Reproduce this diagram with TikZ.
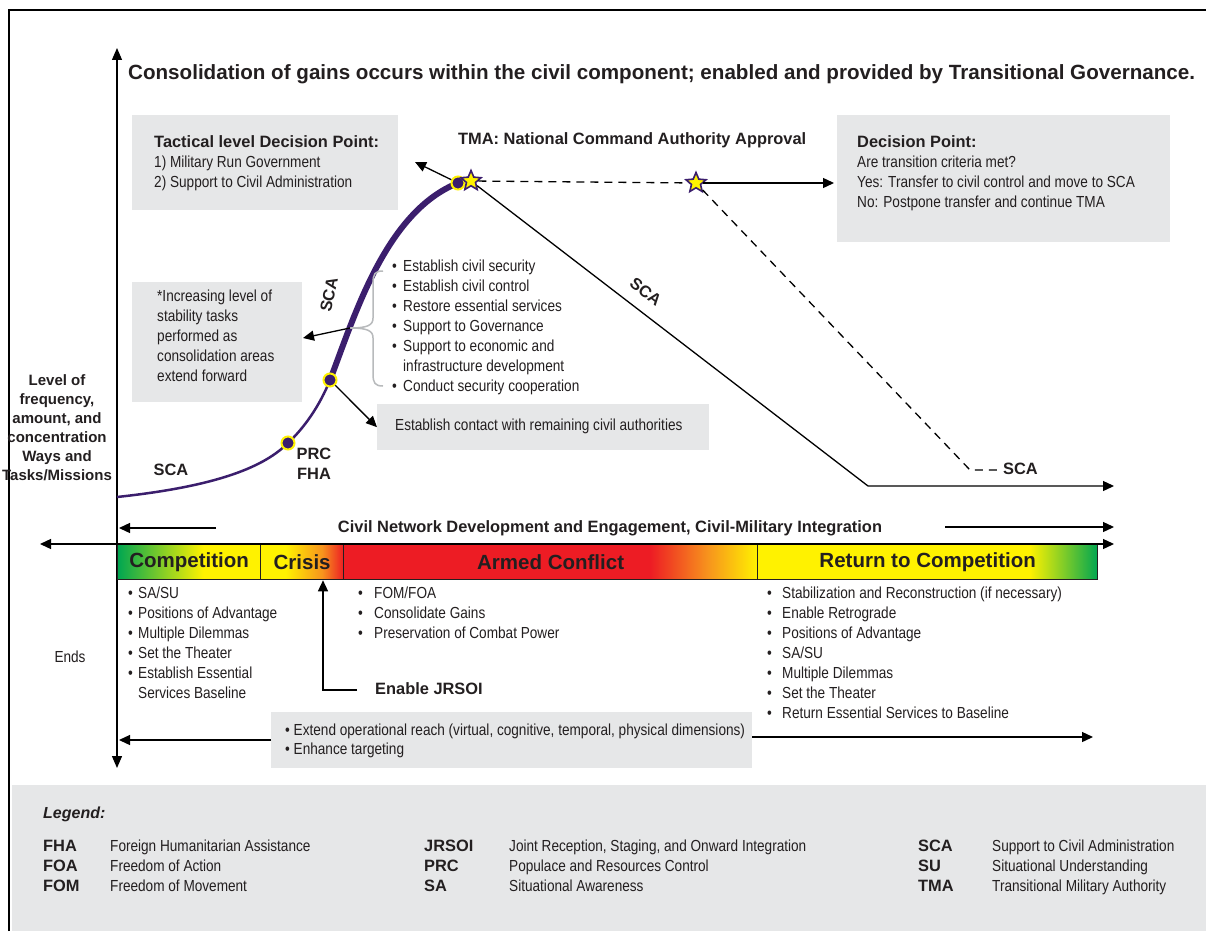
\documentclass[tikz,border=0pt]{standalone}
\usepackage{fontspec}
\setmainfont{Liberation Sans}
\newfontfamily\nar[FakeStretch=0.85]{Liberation Sans}
\usetikzlibrary{arrows.meta,shapes.geometric}
\definecolor{boxgray}{HTML}{E6E7E8}
\definecolor{purp}{HTML}{3B1E6D}
\definecolor{ylw}{HTML}{FFF200}
\definecolor{grn}{HTML}{00A651}
\definecolor{org}{HTML}{F7941D}
\definecolor{rd}{HTML}{ED1C24}
\definecolor{brgray}{HTML}{B8BABC}
\definecolor{ink}{HTML}{231F20}
\pgfdeclarehorizontalshading{compshade}{100bp}{color(0bp)=(grn); color(25bp)=(grn); color(55bp)=(ylw); color(100bp)=(ylw)}
\pgfdeclarehorizontalshading{crisshade}{100bp}{color(0bp)=(ylw); color(40bp)=(ylw); color(62bp)=(org); color(75bp)=(rd); color(100bp)=(rd)}
\pgfdeclarehorizontalshading{armshade}{100bp}{color(0bp)=(rd); color(62bp)=(rd); color(69bp)=(org); color(75bp)=(ylw); color(100bp)=(ylw)}
\pgfdeclarehorizontalshading{retshade}{100bp}{color(0bp)=(ylw); color(65bp)=(ylw); color(75bp)=(grn); color(100bp)=(grn)}
\newcommand\itmA{\makebox[11pt][l]{•}}
\newcommand\itmL{\makebox[10pt][l]{•}}
\newcommand\itmM{\makebox[16pt][l]{•}}
\newcommand\itmR{\makebox[15pt][l]{•}}
\begin{document}
\begin{tikzpicture}[x=1pt,y=-1pt,
  txt/.style={font=\nar\fontsize{16}{20}\selectfont, text=ink, inner sep=0pt, text height=11.5pt, text depth=3pt, anchor=west},
  bld/.style={font=\bfseries\fontsize{16.4}{20}\selectfont, text=ink, inner sep=0pt, text height=12pt, text depth=3pt, anchor=west},
  gbox/.style={fill=boxgray, draw=none, inner sep=0pt, anchor=north west},
  arr/.style={line width=1.3pt, -{Triangle[length=11pt,width=10pt]}},
  barseg/.style={draw=ink, line width=1.3pt, shade, inner sep=0pt, anchor=north west, minimum height=35pt, font=\bfseries\fontsize{20.5}{24}\selectfont, text=ink},
  dot/.style={circle, fill=purp, draw=ylw, line width=2pt, minimum size=13pt, inner sep=0pt},
  starn/.style={star, star points=5, star point ratio=2.2, minimum size=21pt, fill=ylw, draw=purp, line width=1.6pt, inner sep=0pt},
  dsh/.style={line width=1.3pt, dash pattern=on 8pt off 6pt},
]
\useasboundingbox (0,0) rectangle (1206,931);
\fill[white] (0,0) rectangle (1206,931);
\fill[boxgray] (12,785) rectangle (1206,931);
\draw[line width=2.5pt] (9,931) -- (9,10) -- (1206,10);

% vertical axis
\coordinate (axtop) at (117,48);
\coordinate (axbot) at (117,768);
\draw[line width=1.3pt, {Triangle[length=12pt,width=10pt]}-{Triangle[length=12pt,width=10pt]}] (axbot) -- (axtop);

% title
\node[font=\bfseries\fontsize{20.6}{24}\selectfont, text=ink, anchor=west, inner sep=0pt] (title) at (128,74)
  {Consolidation of gains occurs within the civil component; enabled and provided by Transitional Governance.};

% tactical box
\node[gbox, minimum width=266pt, minimum height=95pt] (tacbox) at (132,115) {};
\node[bld] (tac1) at (154,143) {Tactical level Decision Point:};
\node[txt] (tac2) at (154,163) {1) Military Run Government};
\node[txt] (tac3) at (154,183) {2) Support to Civil Administration};

% TMA label
\node[bld] (tma) at (458,140) {TMA: National Command Authority Approval};

% decision box
\node[gbox, minimum width=333pt, minimum height=127pt] (decbox) at (837,115) {};
\node[bld] (dec1) at (857,143) {Decision Point:};
\node[txt] (dec2) at (857,163) {Are transition criteria met?};
\node[txt] (dec3) at (857,183) {Yes: Transfer to civil control and move to SCA};
\node[txt] (dec4) at (857,203) {No: Postpone transfer and continue TMA};

% increasing box
\node[gbox, minimum width=170pt, minimum height=120pt] (incbox) at (132,282) {};
\node[txt, align=left, anchor=north west, text height=, text depth=] (inc) at (157,290)
  {*Increasing level of\\stability tasks\\performed as\\consolidation areas\\extend forward};

% contact box
\node[gbox, minimum width=332pt, minimum height=46pt] (contbox) at (377,404) {};
\node[txt] (cont) at (395,426) {Establish contact with remaining civil authorities};

% curve
\coordinate (c0) at (117,497);
\coordinate (c1) at (288,443);
\coordinate (c2) at (330,380);
\coordinate (c3) at (458,183);
\draw[purp, line width=2.5pt] (c0) .. controls (220,486) and (265,466) .. (c1) .. controls (305,427) and (320,405) .. (c2);
\draw[purp, line width=6pt] (c2) .. controls (354,318) and (385,212) .. (c3);

% brace and list
\draw[brgray, line width=1.5pt] (383,271) .. controls (375,271) and (373,274) .. (373,283) -- (373,318)
  .. controls (373,325) and (368,328) .. (350,328) .. controls (368,328) and (373,331) .. (373,338)
  -- (373,374) .. controls (373,383) and (375,386) .. (383,386);
\coordinate (bracetip) at (350,328);
\coordinate (inctip) at (303,338);
\draw[arr] (bracetip) -- (inctip);
\foreach \t [count=\i] in {{\itmA Establish civil security},{\itmA Establish civil control},{\itmA Restore essential services},{\itmA Support to Governance},{\itmA Support to economic and},{\hspace*{11pt}infrastructure development},{\itmA Conduct security cooperation}}
  \node[txt] (tl\i) at (392,{267+20*(\i-1)}) {\t};

% dots and stars
\node[dot] (d1) at (c1) {};
\node[dot] (d2) at (c2) {};
\node[dot] (d3) at (c3) {};
\node[starn] (s1) at (471,181) {};
\node[starn] (s2) at (696,183) {};

\coordinate (nwtip) at (415,162);
\draw[arr] (d3) -- (nwtip);
\draw[dsh] (s1) -- (s2);
\coordinate (dectip) at (834,183);
\draw[arr] (s2) -- (dectip);
\draw[arr] (d2) -- (contbox.west);

% SCA lines
\coordinate (k1) at (868,486);
\coordinate (k1end) at (1114,486);
\draw[line width=1.3pt, -{Triangle[length=11pt,width=10pt]}] (s1) -- (k1) -- (k1end);
\coordinate (k2) at (970,470);
\coordinate (k2end) at (998,470);
\draw[dsh] (s2) -- (k2) -- (k2end);
\node[bld] (scaR) at (1003,470) {SCA};
\node[bld, anchor=center, rotate=-38] (scaD) at (645,293) {SCA};
\node[bld, anchor=center, rotate=78] (scaC) at (330,295) {SCA};
\node[bld, anchor=center] (scaL) at (171,471) {SCA};
\node[bld, anchor=center] (prc) at (314,455) {PRC};
\node[bld, anchor=center] (fha) at (314,475) {FHA};

% left label
\node[font=\bfseries\fontsize{15}{19}\selectfont, align=center, inner sep=0pt, text=ink] (lvl) at (57,428)
  {Level of\\frequency,\\amount, and\\concentration\\Ways and\\Tasks/Missions};

% civil network row
\node[bld, anchor=center] (civ) at (610,528) {Civil Network Development and Engagement, Civil-Military Integration};
\coordinate (civl0) at (216,528);
\coordinate (civl1) at (119,528);
\draw[arr] (civl0) -- (civl1);
\coordinate (civr0) at (945,527);
\coordinate (civr1) at (1114,527);
\draw[arr] (civr0) -- (civr1);

% bar
\node[barseg, shading=compshade, minimum width=143pt] (comp) at (117,544) {Competition};
\node[barseg, shading=crisshade, minimum width=83pt] (cris) at (260,544) {Crisis};
\node[barseg, shading=armshade, minimum width=414pt] (arm) at (343,544) {Armed Conflict};
\node[barseg, shading=retshade, minimum width=340pt] (ret) at (757,544) {Return to Competition};
\coordinate (barl) at (40,544);
\coordinate (barr) at (1114,544);
\draw[line width=1.3pt, {Triangle[length=11pt,width=10pt]}-{Triangle[length=11pt,width=10pt]}] (barl) -- (barr);

% lists under bar
\foreach \t [count=\i] in {{\itmL SA/SU},{\itmL Positions of Advantage},{\itmL Multiple Dilemmas},{\itmL Set the Theater},{\itmL Establish Essential},{\hspace*{10pt}Services Baseline}}
  \node[txt] (ll\i) at (128,{594+20*(\i-1)}) {\t};
\foreach \t [count=\i] in {{\itmM FOM/FOA},{\itmM Consolidate Gains},{\itmM Preservation of Combat Power}}
  \node[txt] (ml\i) at (358,{594+20*(\i-1)}) {\t};
\foreach \t [count=\i] in {{\itmR Stabilization and Reconstruction (if necessary)},{\itmR Enable Retrograde},{\itmR Positions of Advantage},{\itmR SA/SU},{\itmR Multiple Dilemmas},{\itmR Set the Theater},{\itmR Return Essential Services to Baseline}}
  \node[txt] (rl\i) at (767,{594+20*(\i-1)}) {\t};
\node[txt, anchor=center] (ends) at (70,658) {Ends};

% JRSOI
\node[bld] (jr) at (375,690) {Enable JRSOI};
\coordinate (jr0) at (357,690);
\coordinate (jr1) at (323,690);
\draw[arr] (jr0) -- (jr1) -- (cris.south -| jr1);

% reach box
\node[gbox, minimum width=481pt, minimum height=56pt] (reach) at (271,712) {};
\node[txt] (re1) at (285,731) {• Extend operational reach (virtual, cognitive, temporal, physical dimensions)};
\node[txt] (re2) at (285,750) {• Enhance targeting};
\coordinate (reL) at (119,740);
\coordinate (reR) at (1093,737);
\draw[arr] (reach.west |- reL) -- (reL);
\draw[arr] (reach.east |- reR) -- (reR);

% legend
\node[bld, font=\bfseries\itshape\fontsize{16}{20}\selectfont] (leg) at (43,814) {Legend:};
\foreach \a/\d [count=\i] in {FHA/Foreign Humanitarian Assistance,FOA/Freedom of Action,FOM/Freedom of Movement}{
  \node[bld] (la\i) at (43,{847+20*(\i-1)}) {\a};
  \node[txt] (lad\i) at (110,{847+20*(\i-1)}) {\d};}
\foreach \a/\d [count=\i] in {JRSOI/{Joint Reception, Staging, and Onward Integration},PRC/Populace and Resources Control,SA/Situational Awareness}{
  \node[bld] (lb\i) at (424,{847+20*(\i-1)}) {\a};
  \node[txt] (lbd\i) at (509,{847+20*(\i-1)}) {\d};}
\foreach \a/\d [count=\i] in {SCA/Support to Civil Administration,SU/Situational Understanding,TMA/Transitional Military Authority}{
  \node[bld] (lc\i) at (918,{847+20*(\i-1)}) {\a};
  \node[txt] (lcd\i) at (992,{847+20*(\i-1)}) {\d};}
\end{tikzpicture}
\end{document}
